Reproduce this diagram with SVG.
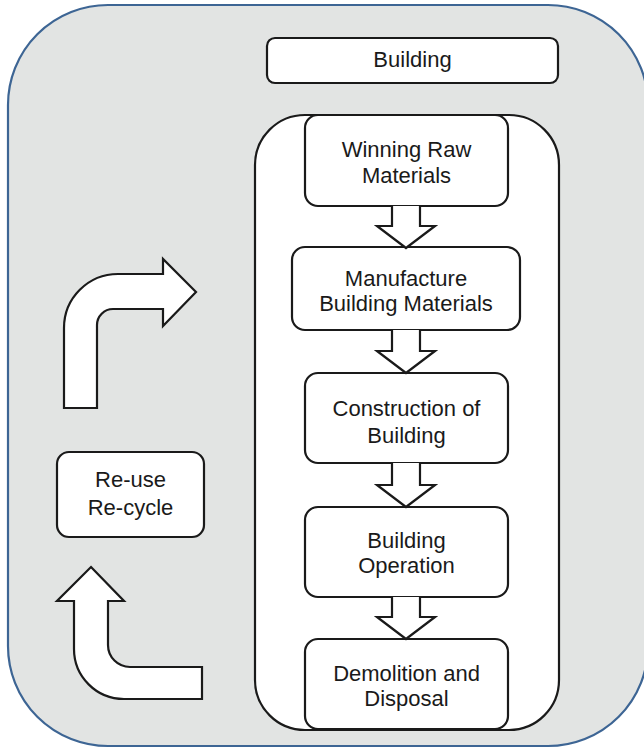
<svg xmlns="http://www.w3.org/2000/svg" width="644" height="749" viewBox="0 0 644 749">
<style>
.frame{fill:#e2e4e3;stroke:#3d6594;stroke-width:2.2}
.box{fill:#ffffff;stroke:#1a1a1a;stroke-width:2.2}
.arrow{fill:#ffffff;stroke:#1a1a1a;stroke-width:2.2;stroke-linejoin:miter}
.lbl{font-family:"Liberation Sans",Arial,sans-serif;font-size:22px;fill:#1a1a1a;text-anchor:middle}
</style>
<rect class="frame" x="8" y="5" width="640" height="741" rx="100" ry="100"/>
<g id="building">
<rect class="box" x="267" y="38" width="291" height="45" rx="8"/>
<text class="lbl" x="412.5" y="67">Building</text>
</g>
<g id="lifecycle">
<rect class="box" x="255" y="115" width="304" height="615" rx="50"/>
</g>
<g id="winning">
<rect class="box" x="305" y="115" width="203" height="91" rx="13"/>
<text class="lbl" x="406.5" y="157">Winning Raw</text>
<text class="lbl" x="406.5" y="183">Materials</text>
</g>
<g id="manufacture">
<rect class="box" x="292" y="247" width="228" height="83" rx="13"/>
<text class="lbl" x="406" y="286">Manufacture</text>
<text class="lbl" x="406" y="311">Building Materials</text>
</g>
<g id="construction">
<rect class="box" x="305" y="373" width="203" height="90" rx="13"/>
<text class="lbl" x="406.5" y="416">Construction of</text>
<text class="lbl" x="406.5" y="443">Building</text>
</g>
<g id="operation">
<rect class="box" x="305" y="507" width="203" height="90" rx="13"/>
<text class="lbl" x="406.5" y="548">Building</text>
<text class="lbl" x="406.5" y="573">Operation</text>
</g>
<g id="demolition">
<rect class="box" x="305" y="639" width="203" height="90" rx="13"/>
<text class="lbl" x="406.5" y="681">Demolition and</text>
<text class="lbl" x="406.5" y="706">Disposal</text>
</g>
<g id="reuse">
<rect class="box" x="57" y="452" width="147" height="85" rx="12"/>
<text class="lbl" x="130.5" y="487">Re-use</text>
<text class="lbl" x="130.5" y="515">Re-cycle</text>
</g>
<g id="connectors">
<path class="arrow" d="M392,206 V226 H377 L406,248 L435,226 H420 V206"/>
<path class="arrow" d="M392,330 V351 H377 L406,373 L435,351 H420 V330"/>
<path class="arrow" d="M392,463 V485 H377 L406,507 L435,485 H420 V463"/>
<path class="arrow" d="M392,597 V617 H377 L406,639 L435,617 H420 V597"/>
<path class="arrow" d="M64,408 V328 A54,54 0 0 1 118,274 H163 V259 L196,292 L163,326 V309 H113 A16,16 0 0 0 97,325 V408 Z"/>
<path class="arrow" d="M91,567 L124,601 H108 V645 A22,22 0 0 0 130,667 H202 V699 H124 A50,50 0 0 1 74,649 V601 H57 Z"/>
</g>
</svg>
